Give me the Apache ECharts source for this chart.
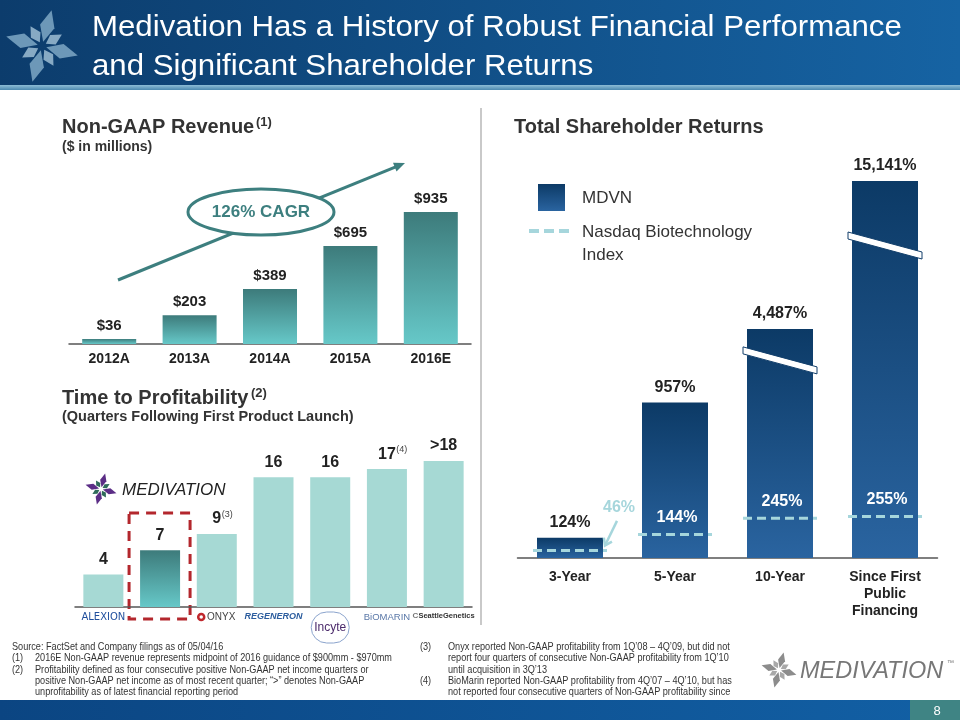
<!DOCTYPE html>
<html>
<head>
<meta charset="utf-8">
<script src="https://cdn.jsdelivr.net/npm/echarts/dist/echarts.min.js"></script>
<style>html,body{margin:0;padding:0;background:#fff}#c{width:960px;height:720px}</style>
</head>
<body>
<div id="c"></div>
<script>
// ---------- data ----------
const revenueYears = ['2012A', '2013A', '2014A', '2015A', '2016E'];
const revenueValues = [36, 203, 389, 695, 935];

const profitCompanies = ['Alexion', 'Medivation', 'Onyx', 'Regeneron', 'Incyte', 'BioMarin', 'Seattle Genetics'];
const profitQuarters = [4, 7, 9, 16, 16, 17, 18];
const profitLabels = ['4', '7', '9', '16', '16', '17', '>18'];
const profitNotes = ['', '', '(3)', '', '', '(4)', ''];

const tsrPeriods = ['3-Year', '5-Year', '10-Year', 'Since First\nPublic\nFinancing'];
const mdvnReturns = [124, 957, 4487, 15141];
const mdvnPlotted = [124, 957, 1410, 2320];   // heights on the broken (truncated) axis
const nbiReturns = [46, 144, 245, 255];

// ---------- styles ----------
const F = "'Liberation Sans', Arial, Helvetica, sans-serif";
const G = echarts.graphic;
const tealGrad = () => new G.LinearGradient(0, 0, 0, 1, [{offset: 0, color: '#3d7b7b'}, {offset: 1, color: '#66c8c8'}]);
const navyGrad = () => new G.LinearGradient(0, 0, 0, 1, [{offset: 0, color: '#0c3a66'}, {offset: 1, color: '#2a64a0'}]);
const NBI = '#a6d6dc';
const TEAL_TXT = '#3d7f7f';

const chart = echarts.init(document.getElementById('c'));

function star(cx, cy, r, fills, opacity) {
  const kids = [];
  for (let k = 0; k < 8; k++) {
    const ang = (k * 45 + 15) * Math.PI / 180;
    const L = k % 2 === 0 ? r : r * 0.62;
    const w = k % 2 === 0 ? r * 0.2 : r * 0.15;
    const pts = [[0, r * 0.12], [w, L * 0.55], [0, L], [-w, L * 0.55]];
    const rp = pts.map(([x, y]) => [cx + x * Math.cos(ang) - y * Math.sin(ang), cy + x * Math.sin(ang) + y * Math.cos(ang)]);
    kids.push({type: 'polygon', shape: {points: rp}, style: {fill: fills[k % fills.length], opacity: opacity}});
  }
  return kids;
}

function txt(text, x, y, font, fill, align, sx) {
  return {type: 'text', x: x, y: y, scaleX: sx || 1, style: {text: text, x: 0, y: 0, font: font, fill: fill || '#333',
    textAlign: align || 'left', textVerticalAlign: 'middle', align: align || 'left', verticalAlign: 'middle'}};
}

const option = {
  animation: false,
  textStyle: {fontFamily: F},
  grid: [
    {left: 69, top: 212, width: 402, height: 132},
    {left: 75, top: 461, width: 397, height: 146},
    {left: 517.5, top: 168, width: 420, height: 390}
  ],
  xAxis: [
    {type: 'category', gridIndex: 0, data: revenueYears,
     axisLine: {lineStyle: {color: '#555', width: 1.5}}, axisTick: {show: false},
     axisLabel: {fontWeight: 'bold', fontSize: 14, color: '#222', margin: 8, fontFamily: F}},
    {type: 'category', gridIndex: 1, data: profitCompanies,
     axisLine: {lineStyle: {color: '#555', width: 1.5}}, axisTick: {show: false},
     axisLabel: {interval: 0, margin: 5, fontFamily: F,
       formatter: function (v) {
         switch (v) {
           case 'Alexion': return '{alex|ALEXION}';
           case 'Medivation': return '';
           case 'Onyx': return '{onyxIcon|}{onyx| ONYX}';
           case 'Regeneron': return '{regen|REGENERON}';
           case 'Incyte': return '{inc|Incyte}';
           case 'BioMarin': return '{bio|BiOMARIN}';
           default: return '{sgIcon|C}{sg|SeattleGenetics}';
         }
       },
       rich: {
         alex: {fontSize: 10, color: '#1f4e9c', fontFamily: "'DejaVu Sans', sans-serif"},
         onyxIcon: {width: 6, height: 6, borderWidth: 2.5, borderColor: '#c0282d', borderRadius: 6},
         onyx: {fontSize: 10, color: '#444', fontFamily: F},
         regen: {fontSize: 9, color: '#2c5d9e', fontStyle: 'italic', fontWeight: 'bold', fontFamily: F},
         inc: {fontSize: 12, color: '#4b2a6b', borderColor: '#8aa3cc', borderWidth: 1, borderRadius: 20,
               padding: [10, 3, 9, 3], fontFamily: F},
         bio: {fontSize: 9.5, color: '#5a78a8', fontFamily: F},
         sgIcon: {fontSize: 8, color: '#777', fontWeight: 'bold'},
         sg: {fontSize: 7.5, color: '#333', fontWeight: 'bold', fontFamily: F}
       }}},
    {type: 'category', gridIndex: 2, data: tsrPeriods,
     axisLine: {lineStyle: {color: '#555', width: 1.5}}, axisTick: {show: false},
     axisLabel: {interval: 0, fontWeight: 'bold', fontSize: 14, color: '#222', margin: 11, lineHeight: 17, fontFamily: F}}
  ],
  yAxis: [
    {type: 'value', gridIndex: 0, min: 0, max: 935, show: false},
    {type: 'value', gridIndex: 1, min: 0, max: 18, show: false},
    {type: 'value', gridIndex: 2, min: 0, max: 2400, show: false}
  ],
  series: [
    {type: 'bar', xAxisIndex: 0, yAxisIndex: 0, data: revenueValues, barWidth: 54,
     itemStyle: {color: tealGrad()},
     label: {show: true, position: 'top', distance: 6, formatter: p => '$' + p.value,
             fontWeight: 'bold', fontSize: 15, color: '#222', fontFamily: F}},
    {type: 'bar', xAxisIndex: 1, yAxisIndex: 1, barWidth: 40,
     data: profitQuarters.map((v, i) => ({value: v, itemStyle: {color: profitCompanies[i] === 'Medivation' ? tealGrad() : '#a6d9d4'}})),
     label: {show: true, position: 'top', distance: 6, fontFamily: F,
       formatter: p => {
         const n = profitNotes[p.dataIndex];
         return n ? '{p|}{v|' + profitLabels[p.dataIndex] + '}{s|' + n + '}' : '{v|' + profitLabels[p.dataIndex] + '}';
       },
       rich: {
         p: {width: 12},
         v: {fontWeight: 'bold', fontSize: 16, color: '#222', lineHeight: 18, fontFamily: F},
         s: {fontSize: 9, color: '#444', verticalAlign: 'top', lineHeight: 10, fontFamily: F, width: 12}
       }}},
    {type: 'bar', xAxisIndex: 2, yAxisIndex: 2, data: mdvnPlotted, barWidth: 66,
     itemStyle: {color: navyGrad()},
     label: {show: true, position: 'top', distance: 7,
             formatter: p => mdvnReturns[p.dataIndex].toLocaleString('en-US') + '%',
             fontWeight: 'bold', fontSize: 16, color: '#222', fontFamily: F}},
    {type: 'custom', xAxisIndex: 2, yAxisIndex: 2, z: 5,
     data: nbiReturns.map((v, i) => [i, v]),
     renderItem: function (params, api) {
       const i = params.dataIndex;
       const x = api.value(0), v = api.value(1);
       const p = api.coord([x, v]);
       const barTop = api.coord([x, mdvnPlotted[i]])[1];
       const hw = 37;
       const kids = [{type: 'line', shape: {x1: p[0] - hw, y1: p[1], x2: p[0] + hw, y2: p[1]},
                      style: {stroke: NBI, lineWidth: 3, lineDash: [9, 5]}}];
       const t = v + '%';
       if (p[1] - barTop > 30) {
         kids.push({type: 'text', style: {text: t, x: p[0] + 2, y: p[1] - 17, font: 'bold 16px ' + F, fill: '#fff',
                    textAlign: 'center', textVerticalAlign: 'middle', align: 'center', verticalAlign: 'middle'}});
       } else {
         kids.push({type: 'text', style: {text: t, x: p[0] + 49, y: barTop - 30, font: 'bold 16px ' + F, fill: NBI,
                    textAlign: 'center', textVerticalAlign: 'middle', align: 'center', verticalAlign: 'middle'}});
         const x1 = p[0] + 47, y1 = barTop - 17, x2 = p[0] + 35, y2 = p[1] - 5;
         const a = Math.atan2(y2 - y1, x2 - x1), hl = 8;
         kids.push({type: 'line', shape: {x1: x1, y1: y1, x2: x2, y2: y2}, style: {stroke: NBI, lineWidth: 2.5}});
         kids.push({type: 'polyline', shape: {points: [
           [x2 - hl * Math.cos(a - 0.6), y2 - hl * Math.sin(a - 0.6)], [x2, y2],
           [x2 - hl * Math.cos(a + 0.6), y2 - hl * Math.sin(a + 0.6)]]},
           style: {stroke: NBI, lineWidth: 2.5, fill: null}});
       }
       return {type: 'group', children: kids};
     }},
    {type: 'custom', xAxisIndex: 2, yAxisIndex: 2, z: 6,
     data: mdvnReturns.map((v, i) => v > mdvnPlotted[i] ? [i, mdvnPlotted[i]] : null).filter(Boolean),
     renderItem: function (params, api) {
       const x = api.value(0);
       const top = api.coord([x, api.value(1)]);
       const depth = x === 2 ? 18 : 51;
       const L = top[0] - 37, R = top[0] + 37;
       const yL = top[1] + depth, yR = yL + 20, th = 7;
       return {type: 'polygon', shape: {points: [[L, yL], [R, yR], [R, yR + th], [L, yL + th]]},
               style: {fill: '#fff', stroke: '#123f6b', lineWidth: 1}};
     }}
  ]
};
chart.setOption(option);

// ---------- decorations ----------
const gfx = [];
// title bar
gfx.push({type: 'rect', shape: {x: 0, y: 0, width: 960, height: 86},
  style: {fill: new G.LinearGradient(0, 0, 1, 0.3, [{offset: 0, color: '#0c3c6c'}, {offset: 1, color: '#1663a3'}])}});
gfx.push({type: 'rect', shape: {x: 0, y: 85, width: 960, height: 5},
  style: {fill: new G.LinearGradient(0, 0, 0, 1, [{offset: 0, color: '#8cbcd6'}, {offset: 1, color: '#4d8ab0'}])}});
star(42, 46, 37, ['#7fa8c6', '#9dbdd4'], 0.85).forEach(e => gfx.push(e));
gfx.push(txt('Medivation Has a History of Robust Financial Performance', 92, 28, '30px ' + F, '#fff', 'left', 1.04));
gfx.push(txt('and Significant Shareholder Returns', 92, 67, '30px ' + F, '#fff', 'left', 1.04));

// bottom bar
gfx.push({type: 'rect', shape: {x: 0, y: 700, width: 960, height: 20},
  style: {fill: new G.LinearGradient(0, 0, 1, 0, [{offset: 0, color: '#0b4582'}, {offset: 1, color: '#1260a5'}])}});
gfx.push({type: 'rect', shape: {x: 910, y: 700, width: 50, height: 20}, style: {fill: '#3f8484'}});
gfx.push(txt('8', 937, 711, '13px ' + F, '#fff', 'center'));

// section headings
gfx.push(txt('Non-GAAP Revenue', 62, 127, 'bold 20px ' + F, '#333'));
gfx.push(txt('(1)', 256, 122, 'bold 13px ' + F, '#333'));
gfx.push(txt('($ in millions)', 62, 147, 'bold 14px ' + F, '#333'));
gfx.push(txt('Time to Profitability', 62, 398, 'bold 20px ' + F, '#333'));
gfx.push(txt('(2)', 251, 393, 'bold 13px ' + F, '#333'));
gfx.push(txt('(Quarters Following First Product Launch)', 62, 417, 'bold 14.5px ' + F, '#333'));
gfx.push(txt('Total Shareholder Returns', 514, 127, 'bold 20px ' + F, '#333'));

// divider
gfx.push({type: 'line', shape: {x1: 481, y1: 108, x2: 481, y2: 625}, style: {stroke: '#c9c9c9', lineWidth: 2}});

// CAGR arrow & ellipse
(function () {
  const x1 = 118, y1 = 280, x2 = 405, y2 = 163;
  const a = Math.atan2(y2 - y1, x2 - x1);
  gfx.push({type: 'line', shape: {x1: x1, y1: y1, x2: x2 - 8 * Math.cos(a), y2: y2 - 8 * Math.sin(a)}, style: {stroke: TEAL_TXT, lineWidth: 3}});
  gfx.push({type: 'polygon', shape: {points: [[x2, y2],
    [x2 - 12 * Math.cos(a - 0.4), y2 - 12 * Math.sin(a - 0.4)],
    [x2 - 12 * Math.cos(a + 0.4), y2 - 12 * Math.sin(a + 0.4)]]}, style: {fill: TEAL_TXT}});
  gfx.push({type: 'ellipse', shape: {cx: 261, cy: 212, rx: 73, ry: 23}, style: {fill: '#fff', stroke: TEAL_TXT, lineWidth: 3}});
  gfx.push(txt('126% CAGR', 261, 212, 'bold 17px ' + F, TEAL_TXT, 'center'));
})();

// legend for TSR
gfx.push({type: 'rect', shape: {x: 538, y: 184, width: 27, height: 27}, style: {fill: navyGrad()}});
gfx.push(txt('MDVN', 582, 198, '17px ' + F, '#333'));
gfx.push({type: 'line', shape: {x1: 529, y1: 231, x2: 573, y2: 231}, style: {stroke: NBI, lineWidth: 4, lineDash: [10, 5]}});
gfx.push(txt('Nasdaq Biotechnology', 582, 232, '17px ' + F, '#333'));
gfx.push(txt('Index', 582, 255, '17px ' + F, '#333'));

// Medivation highlight box and logo (profitability chart)
(function () {
  const base = chart.convertToPixel({xAxisIndex: 1, yAxisIndex: 1}, [1, 0]);
  gfx.push({type: 'rect', shape: {x: base[0] - 31, y: base[1] - 94, width: 61, height: 106},
    style: {fill: null, stroke: '#b3272d', lineWidth: 3, lineDash: [10, 7]}});
  star(101, 489, 16, ['#5b2d86', '#2f6b5a'], 1).forEach(e => gfx.push(e));
  gfx.push(txt('MEDIVATION', 122, 490, 'italic 17px ' + F, '#222'));
})();

// bottom-right logo
star(779, 670, 18, ['#8c8c8c', '#a8a8a8'], 1).forEach(e => gfx.push(e));
gfx.push(txt('MEDIVATION', 800, 671, 'italic 23.5px ' + F, '#777'));
gfx.push(txt('™', 947, 663, '7px ' + F, '#777'));

// footnotes
const fn = '10.5px ' + F, fc = '#333', fs = 0.87;
const L1 = 647, LS = 11.4;
const fl = (t, x, k) => gfx.push(txt(t, x, L1 + k * LS, fn, fc, 'left', fs));
fl('Source: FactSet and Company filings as of 05/04/16', 12, 0);
fl('(1)', 12, 1);
fl('2016E Non-GAAP revenue represents midpoint of 2016 guidance of $900mm - $970mm', 35, 1);
fl('(2)', 12, 2);
fl('Profitability defined as four consecutive positive Non-GAAP net income quarters or', 35, 2);
fl('positive Non-GAAP net income as of most recent quarter; \u201c>\u201d denotes Non-GAAP', 35, 3);
fl('unprofitability as of latest financial reporting period', 35, 4);
fl('(3)', 420, 0);
fl('Onyx reported Non-GAAP profitability from 1Q\u201908 \u2013 4Q\u201909, but did not', 448, 0);
fl('report four quarters of consecutive Non-GAAP profitability from 1Q\u201910', 448, 1);
fl('until acquisition in 3Q\u201913', 448, 2);
fl('(4)', 420, 3);
fl('BioMarin reported Non-GAAP profitability from 4Q\u201907 \u2013 4Q\u201910, but has', 448, 3);
fl('not reported four consecutive quarters of Non-GAAP profitability since', 448, 4);

chart.setOption({graphic: {elements: gfx}});
</script>
</body>
</html>
